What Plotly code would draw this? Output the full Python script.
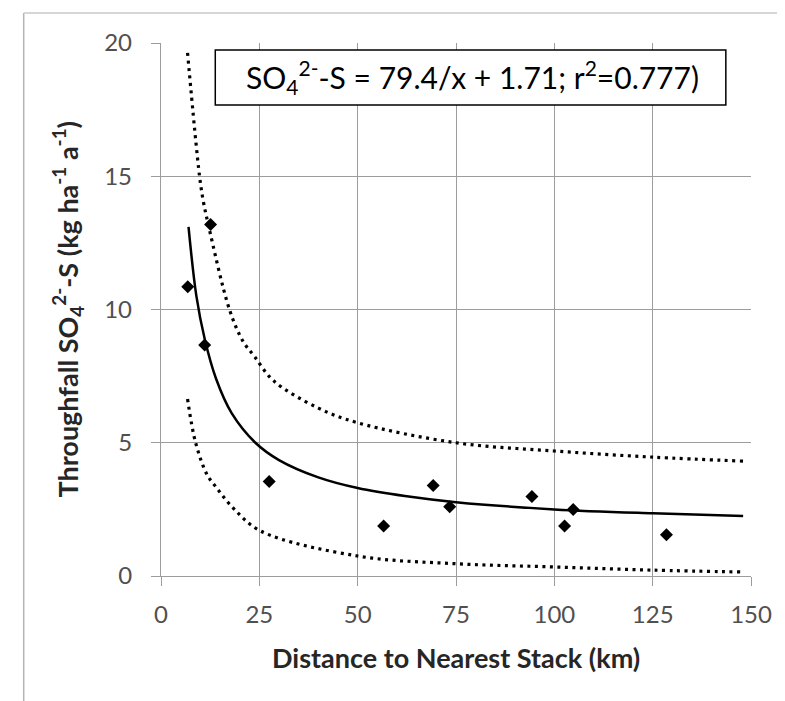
import plotly.graph_objects as go

# Observed data (distance km, throughfall SO4-S kg/ha/a)
obs_x = [6.8, 11.1, 12.6, 27.5, 56.6, 69.2, 73.4, 94.3, 102.6, 104.8, 128.5]
obs_y = [10.85, 8.67, 13.19, 3.55, 1.88, 3.40, 2.60, 2.98, 1.88, 2.50, 1.55]

# Fitted curve
fit_x = [7.0, 9.0, 11.1, 14.0, 18.0, 24.0, 30.0, 40.0, 50.0, 62.0, 75.0, 100.0, 125.0, 148.0]
fit_y = [13.1, 10.5, 8.9, 7.4, 6.1, 5.0, 4.35, 3.7, 3.3, 3.0, 2.77, 2.5, 2.35, 2.25]

# Upper dotted band
up_x = [6.75, 9.8, 10.8, 12.0, 17.4, 20.8, 23.7, 28.6, 40.0, 50.0, 75.0, 100.0, 125.0, 148.0]
up_y = [19.63, 15.0, 14.03, 13.2, 10.0, 8.82, 8.25, 7.33, 6.3, 5.75, 5.0, 4.69, 4.46, 4.31]

# Lower dotted band
lo_x = [6.75, 8.8, 11.7, 13.6, 18.3, 25.3, 50.0, 75.0, 100.0, 125.0, 148.0]
lo_y = [6.64, 5.0, 3.8, 3.41, 2.56, 1.69, 0.75, 0.46, 0.34, 0.22, 0.15]

x_ticks = [0, 25, 50, 75, 100, 125, 150]
y_ticks = [0, 5, 10, 15, 20]

FONT = "Lato"
GRID = "#9c9c9c"
TICKCOL = "#505050"

fig = go.Figure()
dot_line = dict(color="black", width=3.2, dash="3px,4.5px", shape="spline", smoothing=1.0)
fig.add_trace(go.Scatter(x=up_x, y=up_y, mode="lines", line=dot_line, hoverinfo="skip"))
fig.add_trace(go.Scatter(x=lo_x, y=lo_y, mode="lines", line=dot_line, hoverinfo="skip"))
fig.add_trace(go.Scatter(x=fit_x, y=fit_y, mode="lines",
                         line=dict(color="black", width=2.5, shape="spline", smoothing=1.0)))
fig.add_trace(go.Scatter(x=obs_x, y=obs_y, mode="markers",
                         marker=dict(symbol="diamond", size=10, color="black")))

L, R, T, B = 153.3, 41.7, 35, 132.7
W, H = 785, 701
pw = W - L - R
ph = H - T - B

def px_to_paper_x(p):
    return (p - L) / pw

def px_to_paper_y(p):
    return (H - B - p) / ph

axis_common = dict(showgrid=True, gridcolor=GRID, gridwidth=1.3,
                   showline=True, linecolor=GRID, linewidth=1.3,
                   ticks="outside", ticklen=9, tickcolor=GRID, tickwidth=1.3,
                   tickfont=dict(size=24, color=TICKCOL, family=FONT),
                   zeroline=False)

fig.update_layout(
    width=W, height=H,
    margin=dict(l=L, r=R, t=T, b=B, pad=0),
    paper_bgcolor="white", plot_bgcolor="white",
    showlegend=False,
    font=dict(family=FONT, color=TICKCOL),
    xaxis=dict(range=[0, 150], tickvals=x_ticks, ticktext=[str(v) for v in x_ticks],
               ticklabelstandoff=8, **axis_common),
    yaxis=dict(range=[0, 20], tickvals=y_ticks, ticktext=[str(v) for v in y_ticks],
               ticklabelstandoff=14, **axis_common),
    shapes=[
        dict(type="rect", xref="x", yref="y", x0=13.8, x1=143.6, y0=17.67, y1=19.74,
             line=dict(color="black", width=1.5), fillcolor="white", layer="above"),
        dict(type="line", xref="paper", yref="paper",
             x0=px_to_paper_x(16), x1=px_to_paper_x(16),
             y0=px_to_paper_y(5), y1=px_to_paper_y(760),
             line=dict(color="#b4b4b4", width=1.5)),
        dict(type="line", xref="paper", yref="paper",
             x0=px_to_paper_x(16), x1=px_to_paper_x(800),
             y0=px_to_paper_y(5), y1=px_to_paper_y(5),
             line=dict(color="#c8c8c8", width=1.5)),
    ],
    annotations=[
        dict(x=79.1, y=18.72, xref="x", yref="y", showarrow=False,
             text="SO<sub>4</sub><sup>2-</sup>-S = 79.4/x + 1.71; r<sup>2</sup>=0.777)",
             font=dict(size=30, color="black", family=FONT)),
        dict(x=0.5, y=0, xref="paper", yref="paper", showarrow=False,
             yanchor="middle", yshift=-81,
             text="<b>Distance to Nearest Stack (km)</b>",
             font=dict(size=27, color="#262626", family=FONT)),
        dict(x=0, y=0.5, xref="paper", yref="paper", showarrow=False,
             xanchor="center", xshift=-94, textangle=-90,
             text="<b>Throughfall SO<sub>4</sub><sup>2-</sup>-S (kg ha<sup>-1</sup> a<sup>-1</sup>)</b>",
             font=dict(size=27, color="#262626", family=FONT)),
    ],
)

fig.write_html("out.html")
